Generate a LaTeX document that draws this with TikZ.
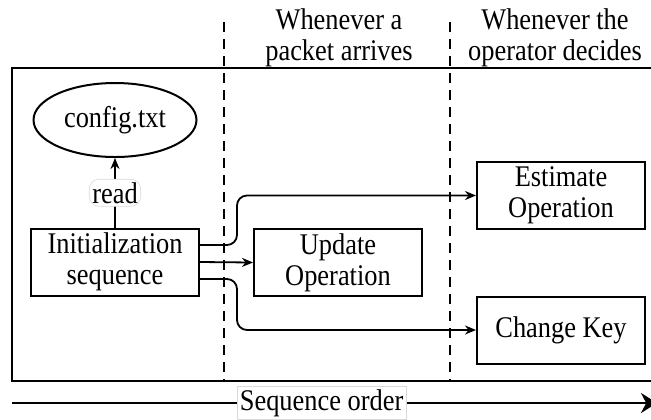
\documentclass[tikz,border=0pt]{standalone}
\usepackage{fontspec}
\setmainfont[FakeStretch=0.88]{Liberation Serif}
\usetikzlibrary{shapes.geometric, arrows.meta, positioning}

\begin{document}
\begin{tikzpicture}[x=0.5pt, y=-0.5pt,
        font=\fontsize{15}{15.5}\selectfont,
        block/.style={draw, line width=1pt, minimum width=84pt, minimum height=33.5pt, align=center, inner sep=2pt},
        tag/.style={fill=white, draw=black!15, line width=0.3pt, inner sep=1.5pt},
        flow/.style={-{Stealth[length=5.5pt, width=4.5pt]}, line width=0.9pt, rounded corners=5pt},
        phase/.style={line width=1pt, dash pattern=on 5pt off 3.5pt}]
        \useasboundingbox (0,0) rectangle (651,419);
        \clip (0,0) rectangle (651,419);

        % Headings of the two phases
        \node[align=center] (lblpacket) at (339,38) {Whenever a\\packet arrives};
        \node[align=center] (lbloperator) at (555,38) {Whenever the\\operator decides};

        % Frame and phase borders
        \draw[line width=1pt] (12,68) rectangle (700,381);
        \draw[phase] (224,22) -- (224,381);
        \draw[phase] (450,22) -- (450,381);

        % Blocks
        \node[draw, ellipse, line width=1pt, minimum width=73pt, minimum height=37pt] (config) at (115,120) {config.txt};
        \node[block] (init) at (115,262) {Initialization\\sequence};
        \node[block] (update) at (338,262.5) {Update\\Operation};
        \node[block] (estimate) at (561,195.5) {Estimate\\Operation};
        \node[block] (change) at (561,330) {Change Key};

        % Connections
        \draw[flow] (init) -- node[tag] (lblread) {read} (config);
        \draw[flow] ([yshift=8.5pt]init.east) -- ++(37,0) |- (estimate.west);
        \draw[flow] (init.east) -- (update.west);
        \draw[flow] ([yshift=-8.5pt]init.east) -- ++(37,0) |- (change.west);

        % Time axis
        \coordinate (axisstart) at (12,403);
        \coordinate (axisend) at (657,403);
        \draw[-{Stealth[length=8pt, width=10pt]}, line width=1pt] (axisstart) -- node[tag, pos=0.48] (lblorder) {Sequence order} (axisend);
    \end{tikzpicture}
\end{document}
